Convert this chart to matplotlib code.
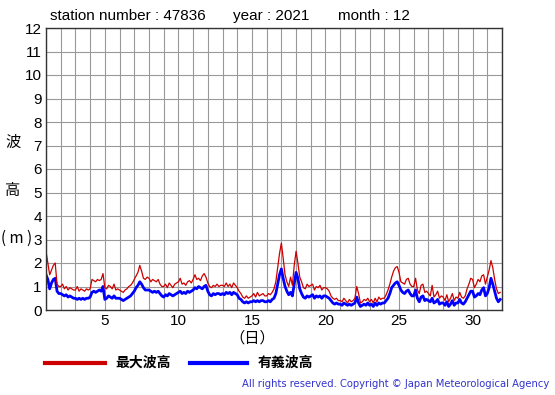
import numpy as np
import matplotlib
matplotlib.use("Agg")
import matplotlib.pyplot as plt
from matplotlib.ticker import MultipleLocator, FixedLocator

# 3-hourly values, 8 per day, days 1..31
sig_by_day = [
    [1.5, 1.3, 0.9, 1.15, 1.3, 1.35, 0.8, 0.7],
    [0.7, 0.65, 0.6, 0.65, 0.55, 0.6, 0.55, 0.5],
    [0.5, 0.45, 0.5, 0.45, 0.5, 0.45, 0.5, 0.5],
    [0.55, 0.75, 0.8, 0.75, 0.8, 0.85, 0.8, 1.0],
    [0.45, 0.5, 0.6, 0.55, 0.5, 0.6, 0.5, 0.5],
    [0.5, 0.45, 0.4, 0.45, 0.5, 0.55, 0.6, 0.7],
    [0.8, 0.95, 1.05, 1.2, 1.1, 0.95, 0.85, 0.85],
    [0.85, 0.8, 0.75, 0.8, 0.75, 0.8, 0.7, 0.6],
    [0.55, 0.65, 0.6, 0.7, 0.65, 0.6, 0.65, 0.7],
    [0.75, 0.8, 0.7, 0.75, 0.7, 0.8, 0.75, 0.8],
    [0.85, 0.95, 0.9, 1.0, 0.95, 0.9, 1.0, 1.05],
    [0.8, 0.65, 0.6, 0.7, 0.65, 0.7, 0.7, 0.65],
    [0.7, 0.65, 0.75, 0.7, 0.75, 0.65, 0.75, 0.7],
    [0.65, 0.5, 0.45, 0.35, 0.3, 0.35, 0.3, 0.35],
    [0.35, 0.4, 0.35, 0.4, 0.35, 0.4, 0.4, 0.35],
    [0.35, 0.4, 0.35, 0.45, 0.5, 0.7, 1.1, 1.5],
    [1.75, 1.35, 1.0, 0.8, 0.65, 0.75, 0.6, 1.1],
    [1.6, 1.35, 0.9, 0.7, 0.55, 0.5, 0.6, 0.55],
    [0.6, 0.65, 0.5, 0.6, 0.55, 0.6, 0.5, 0.6],
    [0.6, 0.55, 0.5, 0.4, 0.3, 0.25, 0.3, 0.25],
    [0.25, 0.2, 0.3, 0.25, 0.2, 0.25, 0.2, 0.25],
    [0.3, 0.55, 0.3, 0.15, 0.2, 0.25, 0.2, 0.3],
    [0.2, 0.25, 0.15, 0.3, 0.2, 0.3, 0.25, 0.3],
    [0.3, 0.4, 0.5, 0.7, 0.95, 1.05, 1.15, 1.2],
    [1.05, 0.85, 0.75, 0.7, 0.8, 0.85, 0.7, 0.6],
    [0.6, 0.85, 0.5, 0.35, 0.55, 0.6, 0.4, 0.45],
    [0.4, 0.35, 0.5, 0.3, 0.35, 0.45, 0.25, 0.3],
    [0.3, 0.2, 0.35, 0.15, 0.25, 0.4, 0.2, 0.3],
    [0.3, 0.45, 0.3, 0.25, 0.35, 0.5, 0.65, 0.8],
    [0.8, 0.55, 0.6, 0.7, 0.65, 0.85, 0.95, 0.6],
    [0.7, 0.95, 1.35, 1.1, 0.8, 0.5, 0.35, 0.45],
]

max_by_day = [
    [2.5, 2.0, 1.5, 1.7, 1.9, 2.0, 1.1, 1.0],
    [1.0, 1.1, 0.9, 1.0, 0.85, 0.95, 0.9, 0.85],
    [0.85, 1.0, 0.8, 0.9, 0.85, 0.8, 0.9, 0.85],
    [0.9, 1.3, 1.25, 1.2, 1.3, 1.25, 1.3, 1.55],
    [0.95, 0.9, 1.05, 1.0, 0.9, 1.1, 0.85, 0.9],
    [0.85, 0.8, 0.75, 0.85, 0.9, 1.0, 1.05, 1.15],
    [1.3, 1.45, 1.6, 1.9, 1.65, 1.35, 1.3, 1.4],
    [1.35, 1.2, 1.3, 1.25, 1.2, 1.3, 1.1, 1.0],
    [1.0, 1.1, 0.95, 1.15, 1.05, 0.95, 1.1, 1.15],
    [1.2, 1.35, 1.1, 1.15, 1.05, 1.2, 1.25, 1.15],
    [1.3, 1.5, 1.3, 1.35, 1.25, 1.45, 1.55, 1.4],
    [1.15, 1.0, 0.95, 1.05, 1.0, 1.1, 1.0, 1.05],
    [1.05, 1.0, 1.15, 1.0, 1.1, 0.95, 1.15, 1.05],
    [0.95, 0.8, 0.7, 0.55, 0.5, 0.6, 0.5, 0.55],
    [0.6, 0.7, 0.55, 0.75, 0.6, 0.65, 0.7, 0.6],
    [0.6, 0.7, 0.65, 0.75, 0.9, 1.2, 1.8, 2.4],
    [2.85, 2.2, 1.5, 1.2, 1.0, 1.4, 1.05, 1.9],
    [2.5, 2.0, 1.4, 1.2, 0.95, 0.9, 1.1, 1.0],
    [1.05, 1.1, 0.85, 1.0, 0.95, 1.05, 0.85, 0.95],
    [0.95, 0.9, 0.8, 0.6, 0.5, 0.45, 0.5, 0.4],
    [0.4, 0.35, 0.5, 0.4, 0.3, 0.45, 0.35, 0.4],
    [0.5, 1.0, 0.7, 0.3, 0.35, 0.45, 0.4, 0.5],
    [0.35, 0.45, 0.3, 0.5, 0.35, 0.55, 0.45, 0.5],
    [0.5, 0.65, 0.85, 1.1, 1.4, 1.65, 1.8, 1.85],
    [1.6, 1.2, 1.15, 1.1, 1.3, 1.35, 1.1, 1.0],
    [1.0, 1.35, 0.85, 0.7, 1.05, 1.1, 0.75, 0.8],
    [0.7, 0.6, 1.05, 0.55, 0.65, 0.8, 0.5, 0.6],
    [0.55, 0.4, 0.65, 0.35, 0.5, 0.7, 0.4, 0.55],
    [0.5, 0.75, 0.55, 0.5, 0.6, 0.9, 1.1, 1.35],
    [1.3, 0.95, 1.1, 1.3, 1.2, 1.45, 1.5, 1.1],
    [1.4, 1.7, 2.1, 1.8, 1.3, 0.9, 0.7, 0.75],
]

x_ticks = [5, 10, 15, 20, 25, 30]
x_tick_labels = ["5", "10", "15", "20", "25", "30"]
y_ticks = list(range(0, 13))
y_tick_labels = [str(v) for v in y_ticks]

sig = np.array(sig_by_day).ravel()
mx = np.array(max_by_day).ravel()
t = 1 + np.arange(sig.size) / 8.0

W, H = 555, 395
fig = plt.figure(figsize=(W / 100, H / 100), dpi=100)
ax = fig.add_axes([46 / W, 1 - 310 / H, 456 / W, 282 / H])

ax.plot(t, sig, color="#0000ff", lw=2.0, zorder=3)
ax.plot(t, mx, color="#cc0000", lw=0.9, zorder=4)

ax.set_xlim(1, 32)
ax.set_ylim(0, 12)
ax.xaxis.set_major_locator(FixedLocator(x_ticks))
ax.set_xticklabels(x_tick_labels)
ax.xaxis.set_minor_locator(MultipleLocator(1))
ax.yaxis.set_major_locator(FixedLocator(y_ticks))
ax.set_yticklabels(y_tick_labels)
ax.grid(True, which="both", color="#999999", lw=0.8, zorder=0)
ax.tick_params(which="both", length=0, labelsize=11, pad=3)
for lab in ax.get_xticklabels() + ax.get_yticklabels():
    lab.set_family("Liberation Sans")
for s in ax.spines.values():
    s.set_color("#333333")
    s.set_linewidth(1.0)
    s.set_zorder(5)

fs = 11
fig.text(50 / W, 1 - 16 / H, "station number : 47836", fontsize=fs,
         family="Liberation Sans", va="center", ha="left")
fig.text(233 / W, 1 - 16 / H, "year : 2021", fontsize=fs,
         family="Liberation Sans", va="center", ha="left")
fig.text(338 / W, 1 - 16 / H, "month : 12", fontsize=fs,
         family="Liberation Sans", va="center", ha="left")

cjk = ["Noto Sans CJK JP", "DejaVu Sans"]
fig.text(13 / W, 1 - 142 / H, "波", fontsize=11, family=cjk, ha="center", va="center")
fig.text(13 / W, 1 - 190 / H, "高", fontsize=11, family=cjk, ha="center", va="center")
fig.text(1 / W, 1 - 238 / H, "( m )", fontsize=11, family=cjk, ha="left", va="center")
fig.text(252 / W, 1 - 338 / H, "（日）", fontsize=11, family=cjk, ha="center", va="center")

# legend
fig.lines.append(plt.Line2D([45 / W, 105 / W], [1 - 363 / H] * 2, color="#cc0000",
                            lw=3, transform=fig.transFigure))
fig.text(115 / W, 1 - 363 / H, "最大波高", fontsize=10, family=cjk, weight="bold",
         ha="left", va="center")
fig.lines.append(plt.Line2D([190 / W, 247 / W], [1 - 363 / H] * 2, color="#0000ff",
                            lw=3, transform=fig.transFigure))
fig.text(258 / W, 1 - 363 / H, "有義波高", fontsize=10, family=cjk, weight="bold",
         ha="left", va="center")

fig.text(549 / W, 1 - 384 / H,
         "All rights reserved. Copyright © Japan Meteorological Agency",
         fontsize=7.2, color="#3333cc", family="DejaVu Sans", ha="right", va="center")

fig.savefig("out.png", dpi=100)
